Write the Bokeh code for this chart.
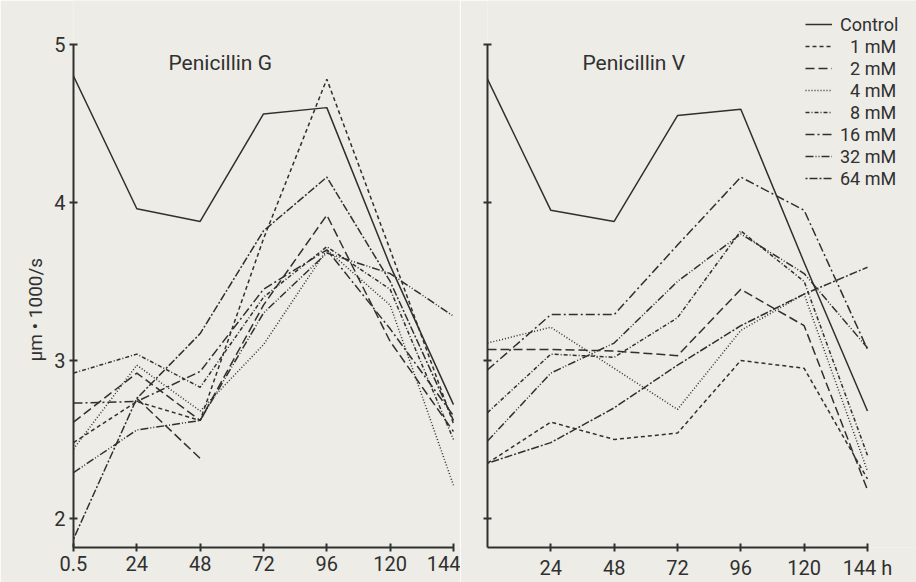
import numpy as np
from bokeh.plotting import figure
from bokeh.layouts import row
from bokeh.models import FixedTicker, Label, Legend, LegendItem, Range1d, Title
from bokeh.embed import file_html
from bokeh.resources import INLINE

# ---------------- data ----------------
hours = ["0.5", "24", "48", "72", "96", "120", "144"]
hours_right = ["", "24", "48", "72", "96", "120", "144 h"]
pos = [0, 1, 2, 3, 4, 5, 6]
series_names = ["Control", "1 mM", "2 mM", "4 mM", "8 mM", "16 mM", "32 mM", "64 mM"]
legend_labels = ["Control", "\u20071 mM", "\u20072 mM", "\u20074 mM", "\u20078 mM", "16 mM", "32 mM", "64 mM"]

# Penicillin G (um * 1000/s)
g_control = [4.80, 3.96, 3.88, 4.56, 4.60, 3.60, 2.72]
g_1mM     = [2.48, 2.74, 2.62, 3.77, 4.78, 3.70, 2.60]
g_2mM     = [2.61, 2.92, 2.62, 3.35, 3.92, 3.12, 2.55]
g_4mM     = [2.44, 2.97, 2.68, 3.10, 3.70, 3.35, 2.21]
g_8mM     = [2.92, 3.04, 2.83, 3.40, 3.72, 3.45, 2.50]
g_16mM    = [2.73, 2.74, 2.93, 3.45, 3.70, 3.20, 2.65]
g_32mM    = [2.29, 2.56, 2.62, 3.30, 3.68, 3.55, 3.28]
g_64mM    = [1.87, 2.76, 3.17, 3.82, 4.16, 3.50, 2.62]
g_branch_pos = [1, 2]
g_branch     = [2.76, 2.38]

# Penicillin V
v_control = [4.78, 3.95, 3.88, 4.55, 4.59, 3.62, 2.68]
v_1mM     = [2.35, 2.61, 2.50, 2.54, 3.00, 2.95, 2.25]
v_2mM     = [3.07, 3.07, 3.06, 3.03, 3.45, 3.22, 2.18]
v_4mM     = [3.11, 3.21, 2.95, 2.69, 3.19, 3.42, 2.30]
v_8mM     = [2.67, 3.04, 3.02, 3.27, 3.82, 3.50, 2.40]
v_16mM    = [2.94, 3.29, 3.29, 3.73, 4.16, 3.95, 3.07]
v_32mM    = [2.49, 2.92, 3.11, 3.50, 3.80, 3.55, 3.08]
v_64mM    = [2.35, 2.48, 2.70, 2.97, 3.22, 3.42, 3.59]

y_ticks = [2, 3, 4, 5]

g_data = [g_control, g_1mM, g_2mM, g_4mM, g_8mM, g_16mM, g_32mM, g_64mM]
v_data = [v_control, v_1mM, v_2mM, v_4mM, v_8mM, v_16mM, v_32mM, v_64mM]

# ---------------- style ----------------
dashes = ["solid", "4 3", "9 4", "1 2", "4 2 1 2", "9 3 2 3", "8 2 1 2 1 2", "2 2 8 2"]
INK = "#303030"
BG = "#edece7"
FONT = "Roboto"
LW = 1.5

H = 582
PPU = 158.3
XPU = 63.33
FRAME_H = 548
Y1 = 5 + 44 / PPU
Y0 = Y1 - FRAME_H / PPU


def base_fig(width, min_left, min_right, xend):
    p = figure(width=width, height=H, x_range=Range1d(0, xend), y_range=Range1d(Y0, Y1),
               output_backend="svg", toolbar_location=None,
               min_border_left=min_left, min_border_right=min_right,
               min_border_top=0, min_border_bottom=H - FRAME_H,
               background_fill_color=BG, border_fill_color=BG, outline_line_color=None)
    p.grid.visible = False
    for ax in (p.xaxis[0], p.yaxis[0]):
        ax.axis_line_color = INK
        ax.axis_line_width = 2
        ax.major_tick_line_color = INK
        ax.major_tick_line_width = 2
        ax.major_tick_in = 4
        ax.major_tick_out = 4
        ax.minor_tick_line_color = None
        ax.major_label_text_font = FONT
        ax.major_label_text_font_size = "20px"
        ax.major_label_text_color = INK
    p.xaxis.major_label_standoff = 4
    p.yaxis.major_label_standoff = 4
    p.xaxis.bounds = (0, 6)
    p.yaxis.bounds = (Y0, 5)
    p.yaxis.ticker = FixedTicker(ticks=y_ticks)
    return p


# ---------------- left panel ----------------
p1 = base_fig(460, 73, 1, 386 / XPU)
p1.xaxis.ticker = FixedTicker(ticks=pos)
p1.xaxis.major_label_overrides = {i: h for i, h in zip(pos, hours)}
p1.yaxis.major_label_overrides = {t: str(t) for t in y_ticks}
for ys, d in zip(g_data, dashes):
    p1.line(pos, ys, line_color=INK, line_width=LW, line_dash=d)
p1.line(g_branch_pos, g_branch, line_color=INK, line_width=LW, line_dash=dashes[2])
p1.add_layout(Label(x=1.5, y=4.88, text="Penicillin G", text_font=FONT, text_font_size="21px",
                    text_color=INK, text_baseline="middle"))
p1.add_layout(Title(text="\u03bcm \u2022 1000/s", align="left", offset=186, standoff=10,
                    text_font=FONT, text_font_size="19px", text_font_style="normal",
                    text_color=INK), "left")

# ---------------- right panel ----------------
p2 = base_fig(456, 27, 0, 429 / XPU)
p2.xaxis.ticker = FixedTicker(ticks=pos[1:])
p2.xaxis.major_label_overrides = {i: h for i, h in zip(pos, hours_right)}
p2.yaxis.major_label_overrides = {t: "" for t in y_ticks}
items = []
for ys, d, lab in zip(v_data, dashes, legend_labels):
    r = p2.line(pos, ys, line_color=INK, line_width=LW, line_dash=d)
    items.append(LegendItem(label=lab, renderers=[r]))
p2.add_layout(Label(x=1.5, y=4.88, text="Penicillin V", text_font=FONT, text_font_size="21px",
                    text_color=INK, text_baseline="middle"))

legend = Legend(items=items, location=(318, 358), background_fill_alpha=0,
                border_line_color=None, padding=0, margin=0, spacing=0,
                glyph_width=27, glyph_height=22, label_height=22, label_standoff=8,
                label_text_font=FONT, label_text_font_size="18px", label_text_color=INK)
p2.add_layout(legend)

layout = row(p1, p2)
open("out.html", "w").write(file_html(layout, INLINE))
